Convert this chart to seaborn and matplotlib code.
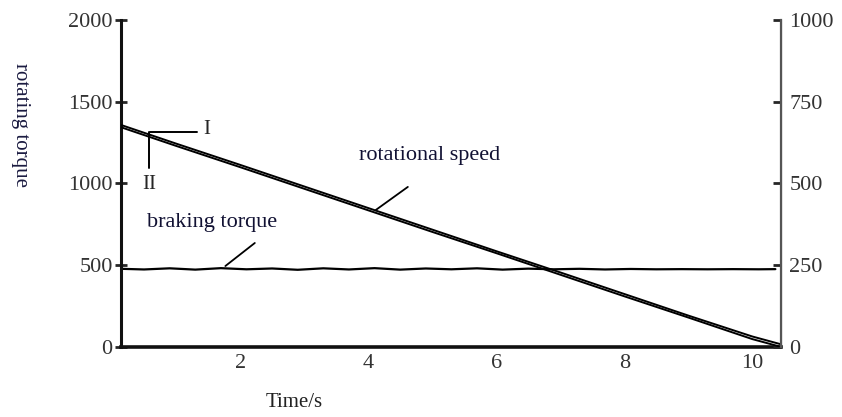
import matplotlib
matplotlib.use("Agg")
import matplotlib.pyplot as plt
import seaborn as sns
import pandas as pd

# values
time_speed = [0.14, 1.0, 2.0, 3.0, 4.0, 5.0, 6.0, 7.0, 8.0, 9.0, 10.0, 10.45]
speed_I = [679, 622, 557, 491, 425, 359, 293, 228, 162, 96, 32, 8]
speed_II = [672, 615, 550, 484, 418, 352, 287, 221, 155, 90, 24, 0]

time_brake = [0.14, 0.5, 0.9, 1.3, 1.7, 2.1, 2.5, 2.9, 3.3, 3.7, 4.1, 4.5, 4.9,
              5.3, 5.7, 6.1, 6.5, 6.9, 7.3, 7.7, 8.1, 8.5, 8.9, 9.3, 9.7, 10.1, 10.36]
brake_torque = [478, 474, 481, 473, 482, 475, 480, 472, 481, 474, 482, 473, 480,
                475, 481, 473, 479, 475, 478, 474, 477, 475, 476, 475, 476, 475, 476]

x_ticks = [2, 4, 6, 8, 10]
left_ticks = [0, 500, 1000, 1500, 2000]
right_ticks = [0, 250, 500, 750, 1000]

sns.set_style("white")
plt.rcParams['font.family'] = ['Liberation Serif', 'DejaVu Serif']

fig = plt.figure(figsize=(8.42, 4.17), dpi=100)
ax = fig.add_axes([0.1437, 0.168, 0.784, 0.784])
ax2 = ax.twinx()

df_brake = pd.DataFrame({'t': time_brake, 'v': brake_torque})
sns.lineplot(data=df_brake, x='t', y='v', ax=ax, color='black', lw=1.6)

df_speed = pd.DataFrame({'t': time_speed, 'I': speed_I, 'II': speed_II})
sns.lineplot(data=df_speed, x='t', y='I', ax=ax2, color='black', lw=1.4)
sns.lineplot(data=df_speed, x='t', y='II', ax=ax2, color='black', lw=1.4)

ax.set_xlim(0.14, 10.45)
ax.set_ylim(0, 2000)
ax2.set_ylim(0, 1000)
ax.set_xticks(x_ticks)
ax.set_yticks(left_ticks)
ax2.set_yticks(right_ticks)
ax.set_xlabel('')
ax.set_ylabel('')
ax2.set_ylabel('')

for a in (ax, ax2):
    a.spines['top'].set_visible(False)
ax.spines['left'].set_linewidth(2.2)
ax.spines['bottom'].set_linewidth(2.6)
ax.spines['left'].set_color('#111111')
ax.spines['bottom'].set_color('#111111')
ax2.spines['right'].set_linewidth(1.6)
ax2.spines['right'].set_color('#555555')
ax2.spines['left'].set_visible(False)
ax2.spines['bottom'].set_visible(False)

ax.tick_params(axis='x', direction='in', length=7, width=2, labelsize=16,
               labelcolor='#333333', pad=5)
ax.tick_params(axis='y', direction='inout', length=8, width=2, labelsize=16,
               labelcolor='#333333', pad=2)
ax2.tick_params(axis='y', direction='in', length=6, width=2, labelsize=16,
                labelcolor='#333333', pad=6)

fig.text(0.349, 0.025, 'Time/s', fontsize=15, color='#222222', ha='center')
fig.text(0.024, 0.70, 'rotating torque', fontsize=15, color='#1a1a40',
         rotation=270, ha='center', va='center')

# annotations
ax.text(1.42, 1300, 'I', fontsize=15)
ax.plot([0.59, 1.33], [1315, 1315], color='black', lw=1.4)
ax.plot([0.58, 0.58], [1315, 1095], color='black', lw=1.4)
ax.text(0.47, 965, 'II', fontsize=15)
ax.text(3.85, 1145, 'rotational speed', fontsize=16, color='#111133')
ax.plot([4.12, 4.62], [838, 979], color='black', lw=1.3)
ax.text(0.55, 735, 'braking torque', fontsize=16, color='#111133')
ax.plot([1.77, 2.23], [495, 636], color='black', lw=1.3)

fig.savefig('out.png', dpi=100)
